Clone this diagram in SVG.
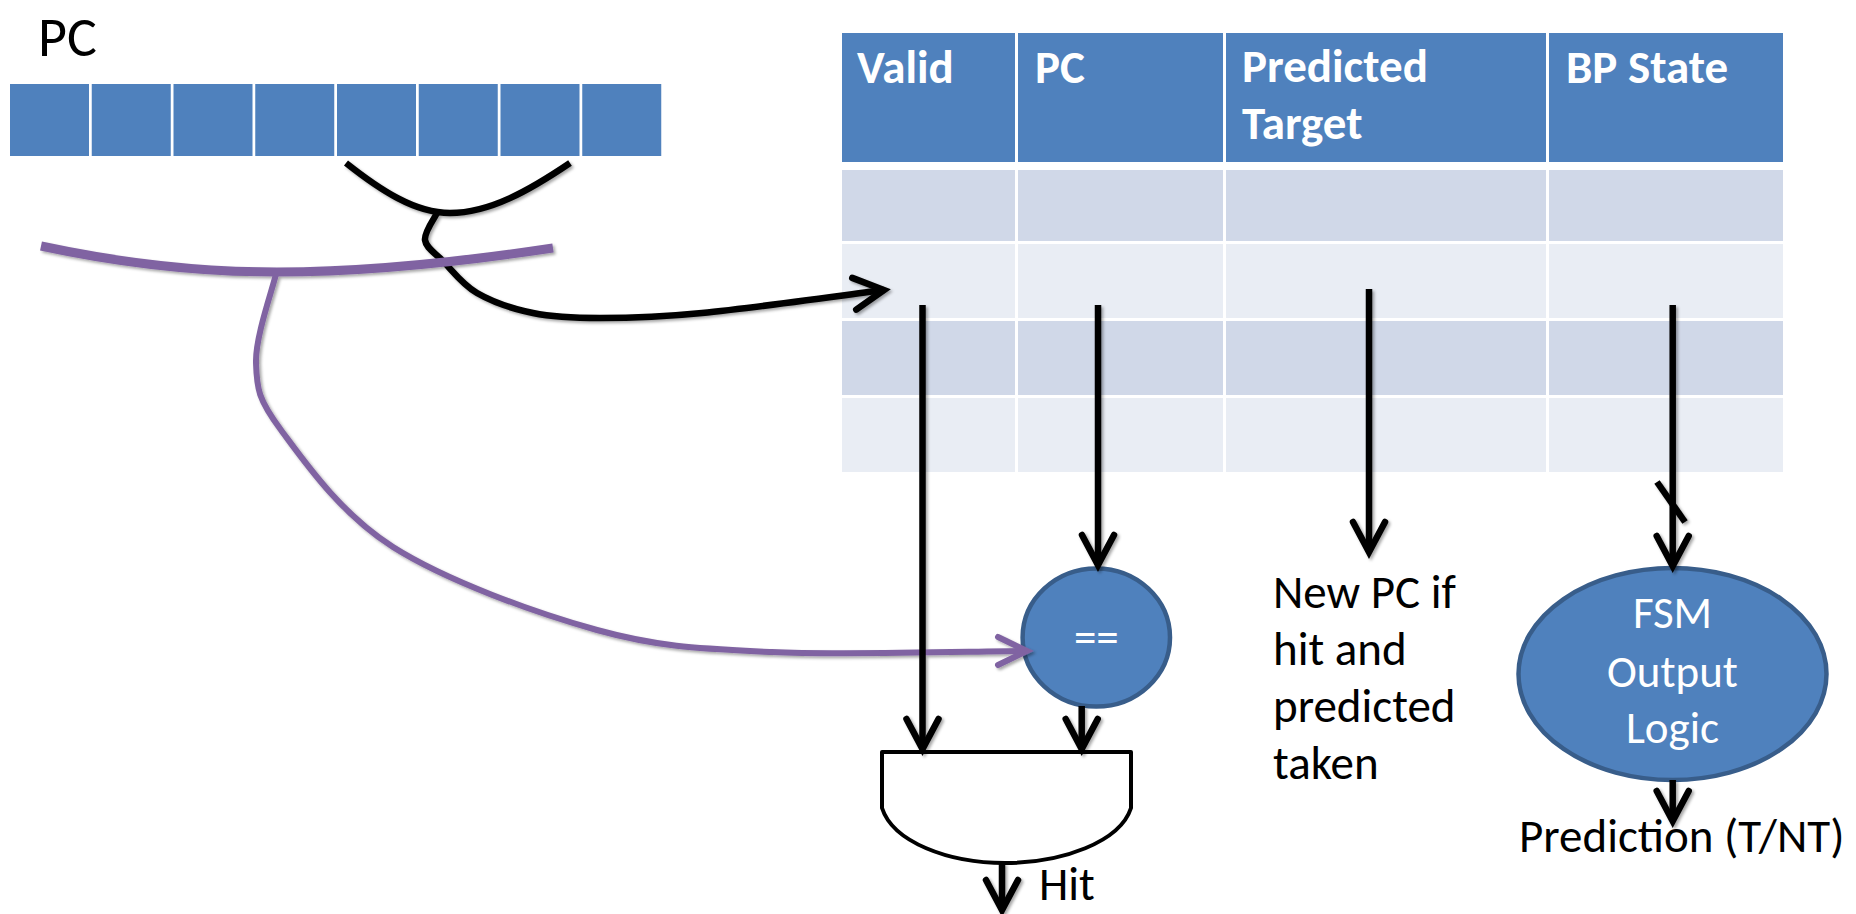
<svg xmlns="http://www.w3.org/2000/svg" width="1856" height="914" viewBox="0 0 1856 914">
  <style>
    .lbl { font-family: Carlito, Lato, "Liberation Sans", sans-serif; font-size: 47px; fill: #000; }
    .hdr { font-family: Carlito, Lato, "Liberation Sans", sans-serif; font-size: 47px; font-weight: bold; fill: #fff; }
    .wht { font-family: Carlito, Lato, "Liberation Sans", sans-serif; font-size: 45px; fill: #fff; text-anchor: middle; }
    .bit { fill: #4F81BD; }
    .th { fill: #4F81BD; }
    .r1 { fill: #D0D8E8; }
    .r2 { fill: #E9EDF4; }
    .wire { fill: none; stroke: #000; stroke-width: 6.5; }
    .pwire { fill: none; stroke: #8064A2; }
    .logic { fill: #4F81BD; stroke: #385D8A; stroke-width: 4.5; }
  </style>
  <defs>
    <filter id="shadow" x="-20%" y="-20%" width="140%" height="140%">
      <feDropShadow dx="2" dy="2" stdDeviation="1.5" flood-color="#000" flood-opacity="0.35"/>
    </filter>
    <marker id="arrow" markerUnits="userSpaceOnUse" orient="auto" overflow="visible" markerWidth="40" markerHeight="40" refX="0" refY="0">
      <path d="M -30 -16 L 0 0 L -30 16" fill="none" stroke="#000" stroke-width="6.5" stroke-linecap="round" stroke-linejoin="miter"/>
    </marker>
    <marker id="parrow" markerUnits="userSpaceOnUse" orient="auto" overflow="visible" markerWidth="40" markerHeight="40" refX="0" refY="0">
      <path d="M -29 -14 L 0 0 L -29 14" fill="none" stroke="#8064A2" stroke-width="6" stroke-linecap="round" stroke-linejoin="miter"/>
    </marker>
  </defs>

  <rect width="1856" height="914" fill="#fff"/>

  <!-- PC register: 8 bit cells -->
  <g id="pc-register">
    <text class="lbl" x="38" y="56" style="font-size:56px">PC</text>
    <rect class="bit" x="10" y="84" width="79" height="72"/>
    <rect class="bit" x="91.75" y="84" width="79" height="72"/>
    <rect class="bit" x="173.5" y="84" width="79" height="72"/>
    <rect class="bit" x="255.25" y="84" width="79" height="72"/>
    <rect class="bit" x="337" y="84" width="79" height="72"/>
    <rect class="bit" x="418.75" y="84" width="79" height="72"/>
    <rect class="bit" x="500.5" y="84" width="79" height="72"/>
    <rect class="bit" x="582.25" y="84" width="79" height="72"/>
  </g>

  <!-- Branch target buffer table -->
  <g id="btb-table">
    <rect class="th" x="842" y="33" width="173" height="129"/>
    <rect class="th" x="1018" y="33" width="205" height="129"/>
    <rect class="th" x="1226" y="33" width="320" height="129"/>
    <rect class="th" x="1549" y="33" width="234" height="129"/>

    <rect class="r1" x="842" y="170" width="173" height="71"/>
    <rect class="r1" x="1018" y="170" width="205" height="71"/>
    <rect class="r1" x="1226" y="170" width="320" height="71"/>
    <rect class="r1" x="1549" y="170" width="234" height="71"/>

    <rect class="r2" x="842" y="244" width="173" height="74"/>
    <rect class="r2" x="1018" y="244" width="205" height="74"/>
    <rect class="r2" x="1226" y="244" width="320" height="74"/>
    <rect class="r2" x="1549" y="244" width="234" height="74"/>

    <rect class="r1" x="842" y="321" width="173" height="74"/>
    <rect class="r1" x="1018" y="321" width="205" height="74"/>
    <rect class="r1" x="1226" y="321" width="320" height="74"/>
    <rect class="r1" x="1549" y="321" width="234" height="74"/>

    <rect class="r2" x="842" y="398" width="173" height="74"/>
    <rect class="r2" x="1018" y="398" width="205" height="74"/>
    <rect class="r2" x="1226" y="398" width="320" height="74"/>
    <rect class="r2" x="1549" y="398" width="234" height="74"/>

    <text class="hdr" x="857" y="83">Valid</text>
    <text class="hdr" x="1035" y="83">PC</text>
    <text class="hdr" x="1242" y="82">Predicted</text>
    <text class="hdr" x="1242" y="138.5">Target</text>
    <text class="hdr" x="1566" y="83">BP State</text>
  </g>

  <!-- Tag comparator -->
  <g id="comparator">
    <ellipse class="logic" cx="1096.3" cy="637.5" rx="73.7" ry="69"/>
    <text class="wht" x="1096.3" y="652">==</text>
  </g>

  <!-- Hit AND gate -->
  <g id="and-gate">
    <path d="M 882 752 H 1131 V 808 C 1120 842 1062 863 1005 863 C 948 863 893 842 882 808 Z" fill="#fff" stroke="#000" stroke-width="4" stroke-linejoin="round"/>
    <text class="lbl" x="1039" y="900">Hit</text>
  </g>

  <!-- FSM output logic -->
  <g id="fsm">
    <ellipse class="logic" cx="1672.5" cy="674" rx="154" ry="106"/>
    <text class="wht" x="1672.5" y="628">FSM</text>
    <text class="wht" x="1672.5" y="687">Output</text>
    <text class="wht" x="1672.5" y="743">Logic</text>
  </g>

  <g id="new-pc-label">
    <text class="lbl" x="1273" y="608">New PC if</text>
    <text class="lbl" x="1273" y="665">hit and</text>
    <text class="lbl" x="1273" y="722">predicted</text>
    <text class="lbl" x="1273" y="779">taken</text>
  </g>

  <g id="prediction-label">
    <text class="lbl" x="1519" y="852">Prediction (T/NT)</text>
  </g>

  <!-- Connectors -->
  <g id="connectors" filter="url(#shadow)">
    <!-- index bits taken from the PC -->
    <path class="wire" d="M 346 163 C 380 190 415 213 450 213 C 490 213 530 190 570 163"/>
    <path class="wire" marker-end="url(#arrow)" d="M 437 213 C 435 217.5 424 232 425 240 C 426 248 434.3 252.2 443 261 C 451.7 269.8 462 284.3 477 293 C 492 301.7 512.5 308.8 533 313 C 553.5 317.2 571.8 318 600 318 C 628.2 318 654.7 317.7 702 313 C 749.3 308.3 853.7 293.8 884 290"/>

    <!-- tag bits taken from the PC -->
    <path class="pwire" stroke-width="9" d="M 41 246 C 120 263 200 272 277 272 C 370 272 460 262 553 248"/>
    <path class="pwire" stroke-width="6" marker-end="url(#parrow)" d="M 276 274 C 272.7 288.8 255.2 337 256 363 C 256.8 389 258.2 399.3 281 430 C 303.8 460.7 340.3 513.7 393 547 C 445.7 580.3 533.8 612.5 597 630 C 660.2 647.5 700.5 648.5 772 652 C 843.5 655.5 983.7 651 1027 651"/>

    <!-- table outputs -->
    <line class="wire" x1="922.5" y1="305" x2="922.5" y2="749" marker-end="url(#arrow)"/>
    <line class="wire" x1="1098" y1="305" x2="1098" y2="565" marker-end="url(#arrow)"/>
    <line class="wire" x1="1369" y1="289" x2="1369" y2="552" marker-end="url(#arrow)"/>
    <line class="wire" x1="1672.7" y1="305" x2="1672.7" y2="566" marker-end="url(#arrow)"/>
    <line class="wire" x1="1657" y1="482" x2="1685" y2="522"/>

    <!-- logic outputs -->
    <line class="wire" x1="1081.7" y1="706" x2="1081.7" y2="749" marker-end="url(#arrow)"/>
    <line class="wire" x1="1002" y1="863" x2="1002" y2="910" marker-end="url(#arrow)"/>
    <line class="wire" x1="1672.7" y1="780" x2="1672.7" y2="821" marker-end="url(#arrow)"/>
  </g>
</svg>
